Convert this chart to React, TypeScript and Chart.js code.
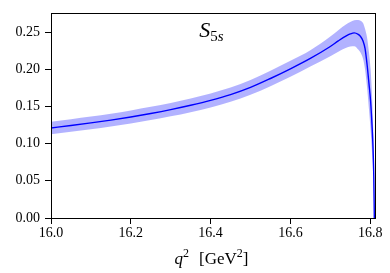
import React, { useEffect, useRef } from "react";
import { Chart, registerables } from "chart.js";

Chart.register(...registerables);

const q2: number[] = [16.0, 16.05, 16.1, 16.15, 16.2, 16.25, 16.3, 16.35, 16.4, 16.45, 16.5, 16.55, 16.6, 16.65, 16.7, 16.72, 16.74, 16.75, 16.76, 16.77, 16.776, 16.782, 16.787, 16.792, 16.797, 16.801, 16.8045, 16.807, 16.809, 16.8103];
const central: number[] = [0.121, 0.1243, 0.1278, 0.1316, 0.1358, 0.1405, 0.1457, 0.1515, 0.158, 0.1658, 0.1755, 0.1875, 0.2005, 0.2145, 0.2305, 0.238, 0.2448, 0.2474, 0.2488, 0.2467, 0.2438, 0.238, 0.228, 0.207, 0.18, 0.157, 0.125, 0.095, 0.055, 0.0];
const upper: number[] = [0.1295, 0.1328, 0.1363, 0.1402, 0.1446, 0.1494, 0.1547, 0.1607, 0.1675, 0.1755, 0.1855, 0.198, 0.2112, 0.2255, 0.244, 0.2525, 0.2605, 0.2635, 0.2658, 0.2662, 0.2652, 0.262, 0.2545, 0.243, 0.222, 0.2, 0.165, 0.128, 0.09, 0.0];
const lower: number[] = [0.1125, 0.1158, 0.1193, 0.123, 0.127, 0.1316, 0.1367, 0.1423, 0.1485, 0.1561, 0.1655, 0.177, 0.1898, 0.2035, 0.2175, 0.2235, 0.2288, 0.2305, 0.231, 0.2265, 0.222, 0.214, 0.2, 0.176, 0.145, 0.118, 0.088, 0.062, 0.03, 0.0];
const xTicks: number[] = [16.0, 16.2, 16.4, 16.6, 16.8];
const yTicks: number[] = [0.0, 0.05, 0.1, 0.15, 0.2, 0.25];

const SERIF = "'Liberation Serif', 'DejaVu Serif', serif";

const framePlugin = {
  id: "frameAndText",
  afterDraw(chart: any) {
    const { ctx, chartArea } = chart;
    const { left, right, top, bottom } = chartArea;
    ctx.save();
    ctx.strokeStyle = "#000";
    ctx.lineWidth = 1;
    ctx.strokeRect(Math.round(left) + 0.5, Math.round(top) + 0.5, Math.round(right - left), Math.round(bottom - top));

    ctx.fillStyle = "#000";
    ctx.textBaseline = "alphabetic";
    ctx.textAlign = "left";
    const parts1 = [
      { t: "S", f: `italic 22px ${SERIF}`, dy: 0 },
      { t: "5", f: `15px ${SERIF}`, dy: 4 },
      { t: "s", f: `italic 15px ${SERIF}`, dy: 4 },
    ];
    let w = 0;
    for (const p of parts1) { ctx.font = p.f; w += ctx.measureText(p.t).width; }
    let x = 211.5 - w / 2;
    for (const p of parts1) { ctx.font = p.f; ctx.fillText(p.t, x, 37 + p.dy); x += ctx.measureText(p.t).width; }

    const parts2 = [
      { t: "q", f: `italic 17px ${SERIF}`, dy: 0, gap: 0 },
      { t: "2", f: `12px ${SERIF}`, dy: -7, gap: 0 },
      { t: "[GeV", f: `17px ${SERIF}`, dy: 0, gap: 10 },
      { t: "2", f: `12px ${SERIF}`, dy: -7, gap: 0 },
      { t: "]", f: `17px ${SERIF}`, dy: 0, gap: 0 },
    ];
    w = 0;
    for (const p of parts2) { ctx.font = p.f; w += ctx.measureText(p.t).width + p.gap; }
    x = 211.5 - w / 2;
    for (const p of parts2) { ctx.font = p.f; x += p.gap; ctx.fillText(p.t, x, 264 + p.dy); x += ctx.measureText(p.t).width; }
    ctx.restore();
  },
};

export default function App() {
  const ref = useRef<HTMLCanvasElement | null>(null);
  useEffect(() => {
    if (!ref.current) return;
    const chart = new Chart(ref.current, {
      type: "line",
      data: {
        datasets: [
          {
            data: q2.map((x, i) => ({ x, y: upper[i] })),
            borderWidth: 0,
            pointRadius: 0,
            backgroundColor: "rgba(0,0,255,0.3)",
            borderColor: "rgba(0,0,0,0)",
            fill: "+1",
            cubicInterpolationMode: "monotone",
          },
          {
            data: q2.map((x, i) => ({ x, y: lower[i] })),
            borderWidth: 0,
            pointRadius: 0,
            borderColor: "rgba(0,0,0,0)",
            fill: false,
            cubicInterpolationMode: "monotone",
          },
          {
            data: q2.map((x, i) => ({ x, y: central[i] })),
            borderWidth: 1.4,
            pointRadius: 0,
            borderColor: "#0000ff",
            fill: false,
            cubicInterpolationMode: "monotone",
          },
        ],
      },
      options: {
        animation: false,
        responsive: false,
        maintainAspectRatio: false,
        layout: { padding: { left: 0, right: 15, top: 11, bottom: 0 } },
        plugins: { legend: { display: false }, tooltip: { enabled: false } },
        scales: {
          x: {
            type: "linear",
            min: 16.0,
            max: 16.812,
            border: { display: false },
            grid: { drawOnChartArea: false, drawTicks: true, tickLength: 6, color: "#000", lineWidth: 1 },
            afterBuildTicks: (scale: any) => { scale.ticks = xTicks.map((v) => ({ value: v })); },
            afterFit: (scale: any) => { scale.height = 55; },
            ticks: {
              color: "#000",
              font: { family: SERIF, size: 14 },
              padding: 1,
              maxRotation: 0,
              autoSkip: false,
              callback: (v: any) => Number(v).toFixed(1),
            },
          },
          y: {
            min: 0,
            max: 0.275,
            border: { display: false },
            grid: { drawOnChartArea: false, drawTicks: true, tickLength: 6, color: "#000", lineWidth: 1 },
            afterBuildTicks: (scale: any) => { scale.ticks = yTicks.map((v) => ({ value: v })); },
            afterFit: (scale: any) => { scale.width = 51; },
            ticks: {
              color: "#000",
              font: { family: SERIF, size: 14 },
              padding: 5,
              autoSkip: false,
              callback: (v: any) => Number(v).toFixed(2),
            },
          },
        },
      },
      plugins: [framePlugin],
    });
    return () => chart.destroy();
  }, []);
  return (
    <div style={{ position: "fixed", left: 0, top: 0, width: 390, height: 273, background: "#fff" }}>
      <canvas ref={ref} width={390} height={273} style={{ width: 390, height: 273, display: "block" }} />
    </div>
  );
}
